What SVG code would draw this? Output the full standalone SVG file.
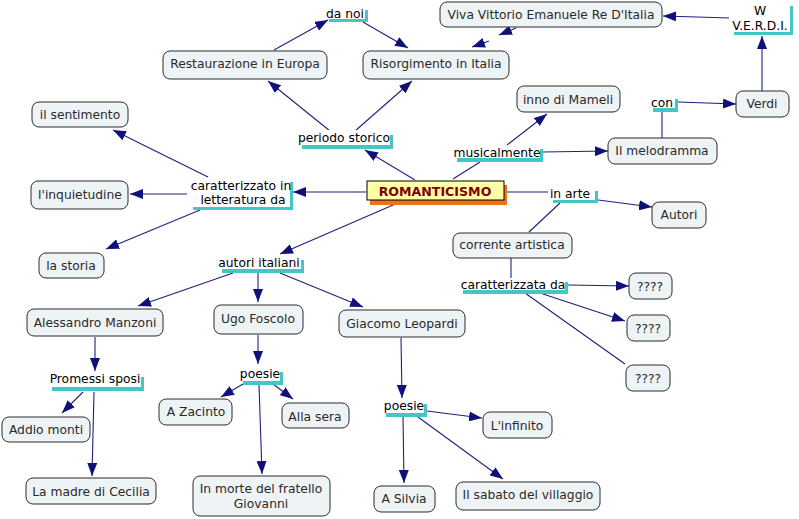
<svg xmlns="http://www.w3.org/2000/svg" width="799" height="519" viewBox="0 0 799 519">
<defs>
<marker id="ah" markerUnits="userSpaceOnUse" markerWidth="13" markerHeight="10" refX="13" refY="5" orient="auto" viewBox="0 0 13 10">
<path d="M0,0 L13,5 L0,10 z" fill="#10107a"/>
</marker>
<style>
.n rect{fill:#eef3f5;stroke:#2a2a2a;stroke-width:1}
.n text{font-family:"DejaVu Sans",Verdana,sans-serif;font-size:12.3px;fill:#2a2a2a;text-anchor:middle}
.l .s{fill:#44c6c6}
.l .w{fill:#ffffff}
.l text{font-family:"DejaVu Sans",Verdana,sans-serif;font-size:12.3px;fill:#000;text-anchor:middle}
#connectors line{stroke:#20207e;stroke-width:1.1}
#connectors line.a{marker-end:url(#ah)}
</style>
</defs>
<rect width="799" height="519" fill="#fff"/>
<g id="connectors">
<line class="a" x1="274" y1="50" x2="328" y2="20"/>
<line class="a" x1="363" y1="22" x2="408" y2="48"/>
<line class="a" x1="415" y1="180" x2="365" y2="150"/>
<line class="a" x1="330" y1="131" x2="268" y2="81"/>
<line class="a" x1="355" y1="131" x2="412" y2="81"/>
<line class="a" x1="516" y1="28" x2="499" y2="35"/>
<line class="a" x1="489" y1="41" x2="472" y2="47"/>
<line class="a" x1="730" y1="18" x2="663" y2="16"/>
<line class="a" x1="762" y1="91" x2="762" y2="36"/>
<line class="a" x1="678" y1="102" x2="736" y2="104"/>
<line x1="662" y1="138" x2="662" y2="110"/>
<line x1="453" y1="179" x2="480" y2="162"/>
<line class="a" x1="507" y1="145" x2="547" y2="114"/>
<line class="a" x1="543" y1="152" x2="608" y2="151"/>
<line x1="503" y1="192" x2="549" y2="192"/>
<line class="a" x1="598" y1="200" x2="652" y2="207"/>
<line x1="560" y1="203" x2="529" y2="232"/>
<line x1="511" y1="258" x2="511" y2="279"/>
<line class="a" x1="568" y1="285" x2="629" y2="286"/>
<line class="a" x1="540" y1="293" x2="625" y2="321"/>
<line x1="525" y1="293" x2="625" y2="364"/>
<line class="a" x1="366" y1="192" x2="293" y2="192"/>
<line class="a" x1="208" y1="177" x2="113" y2="130"/>
<line class="a" x1="188" y1="194" x2="130" y2="194"/>
<line class="a" x1="200" y1="210" x2="106" y2="249"/>
<line class="a" x1="400" y1="202" x2="280" y2="254"/>
<line class="a" x1="233" y1="273" x2="138" y2="306"/>
<line class="a" x1="258" y1="273" x2="258" y2="302"/>
<line class="a" x1="280" y1="273" x2="363" y2="307"/>
<line class="a" x1="95" y1="337" x2="95" y2="371"/>
<line class="a" x1="83" y1="392" x2="62" y2="413"/>
<line class="a" x1="94" y1="392" x2="92" y2="476"/>
<line class="a" x1="258" y1="335" x2="258" y2="364"/>
<line class="a" x1="243" y1="384" x2="221" y2="397"/>
<line class="a" x1="273" y1="384" x2="293" y2="399"/>
<line class="a" x1="259" y1="385" x2="262" y2="474"/>
<line class="a" x1="401" y1="338" x2="402" y2="398"/>
<line class="a" x1="427" y1="411" x2="482" y2="418"/>
<line class="a" x1="403" y1="417" x2="404" y2="483"/>
<line class="a" x1="418" y1="417" x2="503" y2="479"/>
</g>

<g id="lbl-danoi" class="l"><rect class="s" x="329" y="10" width="39" height="12"/><rect class="w" x="325" y="6" width="40" height="13"/><text x="345" y="18">da noi</text></g>
<g id="lbl-wverdi" class="l"><rect class="s" x="734" y="6" width="59" height="29"/><rect class="w" x="729" y="2" width="61" height="30"/><text x="760" y="15">W</text><text x="760" y="30">V.E.R.D.I.</text></g>
<g id="lbl-con" class="l"><rect class="s" x="653" y="99" width="25" height="13"/><rect class="w" x="649" y="95" width="26" height="13"/><text x="662" y="107">con</text></g>
<g id="lbl-musicalmente" class="l"><rect class="s" x="457" y="149" width="86" height="13"/><rect class="w" x="452" y="145" width="88" height="13"/><text x="497" y="157">musicalmente</text></g>
<g id="lbl-inarte" class="l"><rect class="s" x="553" y="191" width="45" height="12"/><rect class="w" x="548" y="187" width="47" height="13"/><text x="570" y="198">in arte</text></g>
<g id="lbl-periodo" class="l"><rect class="s" x="302" y="135" width="91" height="14"/><rect class="w" x="297" y="130" width="93" height="15"/><text x="344" y="142">periodo storico</text></g>
<g id="lbl-caratterizzato" class="l"><rect class="s" x="193" y="182" width="100" height="28"/><rect class="w" x="187" y="178" width="103" height="29"/><text x="241" y="190">caratterizzato in</text><text x="243" y="204">letteratura da</text></g>
<g id="lbl-autori" class="l"><rect class="s" x="222" y="260" width="82" height="13"/><rect class="w" x="216" y="256" width="85" height="13"/><text x="259" y="267">autori italiani</text></g>
<g id="lbl-caratterizzata" class="l"><rect class="s" x="463" y="282" width="105" height="12"/><rect class="w" x="459" y="278" width="106" height="12"/><text x="513" y="289">caratterizzata da</text></g>
<g id="lbl-promessi" class="l"><rect class="s" x="52" y="377" width="92" height="14"/><rect class="w" x="47" y="372" width="94" height="15"/><text x="95" y="383">Promessi sposi</text></g>
<g id="lbl-poesie1" class="l"><rect class="s" x="243" y="372" width="40" height="13"/><rect class="w" x="238" y="367" width="42" height="14"/><text x="260" y="378">poesie</text></g>
<g id="lbl-poesie2" class="l"><rect class="s" x="386" y="404" width="41" height="13"/><rect class="w" x="382" y="400" width="42" height="13"/><text x="404" y="410">poesie</text></g>

<g id="node-romanticismo"><rect x="370" y="185" width="137" height="20" fill="#e8761e"/><rect x="367" y="181" width="137" height="19" fill="#ffffa8" stroke="#000" stroke-width="1"/><text x="435" y="195.5" font-family="'DejaVu Sans',Verdana,sans-serif" font-weight="bold" font-size="12.6px" fill="#800000" text-anchor="middle">ROMANTICISMO</text></g>

<g id="node-restaurazione" class="n"><rect x="163" y="51" width="164" height="28" rx="7"/><text x="245" y="68">Restaurazione in Europa</text></g>
<g id="node-risorgimento" class="n"><rect x="363" y="51" width="146" height="28" rx="7"/><text x="436" y="68">Risorgimento in Italia</text></g>
<g id="node-viva" class="n"><rect x="440" y="2" width="222" height="25" rx="7"/><text x="551" y="19">Viva Vittorio Emanuele Re D'Italia</text></g>
<g id="node-verdi" class="n"><rect x="736" y="91" width="53" height="26" rx="7"/><text x="762" y="108">Verdi</text></g>
<g id="node-inno" class="n"><rect x="517" y="86" width="103" height="26" rx="7"/><text x="568" y="104">inno di Mameli</text></g>
<g id="node-melodramma" class="n"><rect x="608" y="138" width="109" height="26" rx="7"/><text x="662" y="155">Il melodramma</text></g>
<g id="node-autori" class="n"><rect x="652" y="202" width="54" height="26" rx="7"/><text x="679" y="219">Autori</text></g>
<g id="node-corrente" class="n"><rect x="453" y="233" width="119" height="25" rx="7"/><text x="512" y="249">corrente artistica</text></g>
<g id="node-q1" class="n"><rect x="629" y="273" width="43" height="26" rx="7"/><text x="650" y="291">????</text></g>
<g id="node-q2" class="n"><rect x="627" y="315" width="43" height="26" rx="7"/><text x="648" y="333">????</text></g>
<g id="node-q3" class="n"><rect x="626" y="365" width="44" height="26" rx="7"/><text x="648" y="383">????</text></g>
<g id="node-sentimento" class="n"><rect x="32" y="102" width="96" height="25" rx="7"/><text x="80" y="119">il sentimento</text></g>
<g id="node-inquietudine" class="n"><rect x="31" y="181" width="97" height="28" rx="7"/><text x="80" y="199">l'inquietudine</text></g>
<g id="node-storia" class="n"><rect x="39" y="253" width="65" height="25" rx="7"/><text x="71" y="270">la storia</text></g>
<g id="node-manzoni" class="n"><rect x="27" y="309" width="136" height="27" rx="7"/><text x="95" y="327">Alessandro Manzoni</text></g>
<g id="node-foscolo" class="n"><rect x="214" y="305" width="89" height="29" rx="7"/><text x="258" y="323">Ugo Foscolo</text></g>
<g id="node-leopardi" class="n"><rect x="339" y="310" width="126" height="27" rx="7"/><text x="402" y="328">Giacomo Leopardi</text></g>
<g id="node-addio" class="n"><rect x="2" y="417" width="88" height="25" rx="7"/><text x="46" y="434">Addio monti</text></g>
<g id="node-madre" class="n"><rect x="26" y="478" width="130" height="26" rx="7"/><text x="91" y="496">La madre di Cecilia</text></g>
<g id="node-zacinto" class="n"><rect x="159" y="399" width="73" height="26" rx="7"/><text x="196" y="416">A Zacinto</text></g>
<g id="node-allasera" class="n"><rect x="282" y="403" width="67" height="25" rx="7"/><text x="315" y="421">Alla sera</text></g>
<g id="node-inmorte" class="n"><rect x="193" y="476" width="137" height="40" rx="7"/><text x="261" y="493">In morte del fratello</text><text x="261" y="508">Giovanni</text></g>
<g id="node-infinito" class="n"><rect x="483" y="412" width="69" height="26" rx="7"/><text x="517" y="430">L'infinito</text></g>
<g id="node-silvia" class="n"><rect x="374" y="486" width="61" height="26" rx="7"/><text x="404" y="503">A Silvia</text></g>
<g id="node-sabato" class="n"><rect x="456" y="482" width="144" height="28" rx="7"/><text x="528" y="499">Il sabato del villaggio</text></g>
</svg>
